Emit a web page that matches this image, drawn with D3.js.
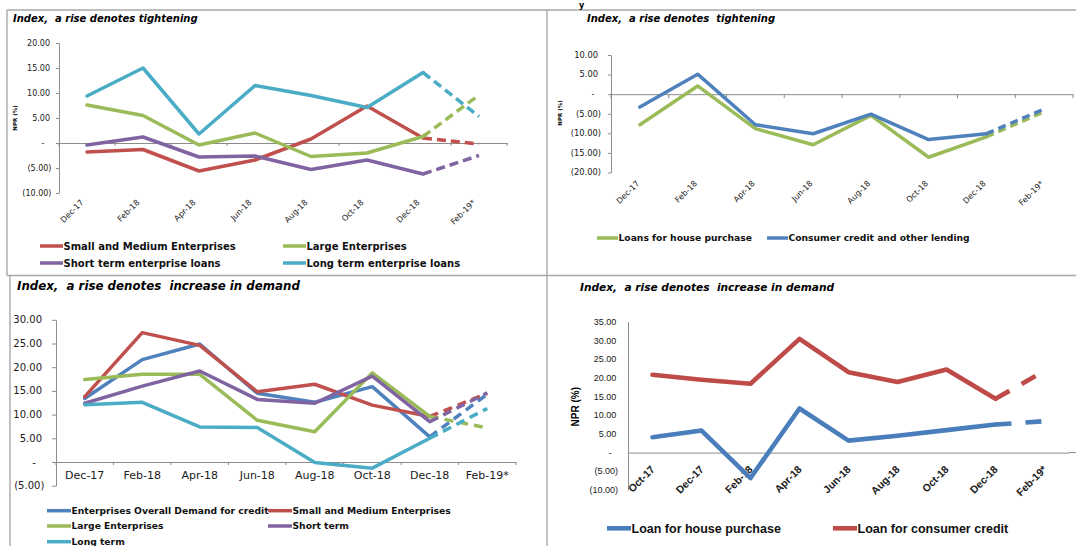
<!DOCTYPE html>
<html>
<head>
<meta charset="utf-8">
<script src="https://cdn.jsdelivr.net/npm/d3@7"></script>
<style>
  body { margin: 0; background: #ffffff; }
  svg { display: block; }
  text { white-space: pre; }
</style>
</head>
<body>
<svg id="chart" width="1076" height="546"></svg>
<script>
// ---------- Data ----------
const supplyCategories = ["Dec-17", "Feb-18", "Apr-18", "Jun-18", "Aug-18", "Oct-18", "Dec-18", "Feb-19*"];

// Credit standards, enterprises (NPR %)
const entSME   = [-1.8, -1.3, -5.6, -3.4, 0.8, 7.4, 1.0, -0.2];
const entLarge = [7.6, 5.5, -0.4, 2.0, -2.7, -2.0, 1.3, 9.6];
const entShort = [-0.4, 1.2, -2.8, -2.6, -5.3, -3.4, -6.2, -2.5];
const entLong  = [9.4, 15.0, 1.8, 11.5, 9.5, 7.1, 14.1, 5.3];
const entTicks = [20, 15, 10, 5, 0, -5, -10];

// Credit standards, households (NPR %)
const hhHouse    = [-7.8, 2.1, -8.8, -12.9, -5.4, -16.1, -10.9, -4.5];
const hhConsumer = [-3.3, 5.1, -7.8, -10.1, -5.1, -11.6, -10.1, -3.8];
const hhTicks = [10, 5, 0, -5, -10, -15, -20];

// Demand, enterprises (NPR %)
const demOverall = [13.4, 21.6, 24.9, 14.5, 12.6, 15.9, 5.3, 14.3];
const demSME     = [13.8, 27.3, 24.6, 14.8, 16.4, 12.0, 9.6, 14.5];
const demLarge   = [17.4, 18.5, 18.5, 8.8, 6.4, 18.8, 9.6, 7.2];
const demShort   = [12.4, 16.0, 19.2, 13.2, 12.4, 18.1, 8.5, 14.6];
const demLong    = [12.1, 12.6, 7.4, 7.3, -0.1, -1.3, 5.0, 11.3];
const demTicks = [30, 25, 20, 15, 10, 5, 0, -5];

// Demand, households (NPR %)
const hhDemCategories = ["Oct-17", "Dec-17", "Feb-18", "Apr-18", "Jun-18", "Aug-18", "Oct-18", "Dec-18", "Feb-19*"];
const hhDemHouse    = [4.1, 5.9, -6.8, 11.8, 3.2, 4.5, 6.0, 7.5, 8.4];
const hhDemConsumer = [20.8, 19.5, 18.4, 30.4, 21.5, 18.9, 22.2, 14.4, 21.8];
const hhDemTicks = [35, 30, 25, 20, 15, 10, 5, 0, -5, -10];

// ---------- Styling ----------
const C = {
  red: "#C0504D", green: "#9BBB59", purple: "#8064A2",
  cyan: "#4BACC6", blue: "#4F81BD",
  blueDark: "#4A7EBB", redDark: "#BE4B48",
  axis: "#8C8C8C", frame: "#A8A8A8", text: "#1a1a1a"
};
const DV = "'DejaVu Sans', Verdana, sans-serif";
const LS = "'Liberation Sans', Arial, sans-serif";

const fmt2 = d3.format(".2f");
const fmtNPR = v => v === 0 ? "-" : (v < 0 ? "(" + fmt2(-v) + ")" : fmt2(v));

const svg = d3.select("#chart");

// Frame lines dividing the four panels
const frame = svg.append("g").attr("stroke", C.frame).attr("stroke-width", 1.4).attr("fill", "none");
frame.append("line").attr("x1", 7).attr("x2", 1076).attr("y1", 10).attr("y2", 10);
frame.append("line").attr("x1", 7).attr("x2", 1076).attr("y1", 275.5).attr("y2", 275.5);
frame.append("line").attr("x1", 7).attr("x2", 7).attr("y1", 10).attr("y2", 275.5);
frame.append("line").attr("x1", 10).attr("x2", 10).attr("y1", 275.5).attr("y2", 546);
frame.append("line").attr("x1", 547).attr("x2", 547).attr("y1", 10).attr("y2", 546);

// Small heading glyph above the frame
svg.append("text").attr("x", 579).attr("y", 7.5)
  .style("font-family", DV).style("font-weight", "bold").style("font-size", "8px")
  .attr("fill", "#000").text("y");

function drawPanel(p) {
  const g = svg.append("g");
  const x = d3.scaleBand().domain(p.categories).range(p.xRange);
  const y = d3.scaleLinear().domain(p.yDomain).range(p.yRange);
  const cx = c => x(c) + x.bandwidth() / 2;

  // Title
  g.append("text")
    .attr("x", p.title.x).attr("y", p.title.y)
    .style("font-family", p.title.font).style("font-weight", "bold")
    .style("font-style", "italic").style("font-size", p.title.size + "px")
    .attr("fill", "#000").text(p.title.text);

  // Y axis
  const ya = g.append("g")
    .attr("transform", `translate(${p.xRange[0]},0)`)
    .call(d3.axisLeft(y).tickValues(p.ticks).tickFormat("")
      .tickSizeInner(p.yTickSize).tickSizeOuter(0));
  ya.select(".domain").attr("stroke", C.axis).attr("stroke-width", 1);
  ya.selectAll(".tick line").attr("stroke", C.axis);

  g.selectAll(null).data(p.ticks).join("text")
    .attr("x", d => p.xRange[0] + (d === 0 ? p.yLab.zero : d < 0 ? p.yLab.neg : p.yLab.pos))
    .attr("y", d => y(d)).attr("dy", "0.35em")
    .attr("text-anchor", d => d === 0 ? "middle" : "end")
    .style("font-family", p.yLab.font).style("font-size", p.yLab.size + "px")
    .attr("fill", C.text).text(fmtNPR);

  // X axis along zero
  const xa = g.append("g")
    .attr("transform", `translate(0,${y(0)})`)
    .call(d3.axisBottom(x).tickFormat("").tickSize(0).tickSizeOuter(0));
  xa.select(".domain").attr("stroke", C.axis).attr("stroke-width", 1);
  if (p.axisEnd) {
    g.append("line").attr("x1", p.xRange[1]).attr("x2", p.axisEnd)
      .attr("y1", y(0)).attr("y2", y(0)).attr("stroke", C.axis);
  }
  if (p.xTickSize) {
    g.selectAll(null).data(d3.range(p.categories.length + 1)).join("line")
      .attr("x1", i => p.xRange[0] + i * x.step())
      .attr("x2", i => p.xRange[0] + i * x.step())
      .attr("y1", y(0)).attr("y2", y(0) + p.xTickSize)
      .attr("stroke", C.axis);
  }

  // Category labels
  const xl = g.selectAll(null).data(p.categories).join("text")
    .style("font-family", p.xLab.font).style("font-size", p.xLab.size + "px")
    .style("font-weight", p.xLab.bold ? "bold" : "normal")
    .attr("fill", C.text).text(d => d);
  if (p.xLab.rotate) {
    xl.attr("text-anchor", "end")
      .attr("transform", d => `translate(${cx(d) + p.xLab.dx},${p.xLab.y}) rotate(-45)`);
  } else {
    xl.attr("text-anchor", "middle").attr("x", d => cx(d)).attr("y", p.xLab.y);
  }

  // Y axis title
  if (p.yTitle) {
    g.append("text")
      .attr("transform", `translate(${p.yTitle.x},${p.yTitle.y}) rotate(-90)`)
      .attr("text-anchor", "middle").attr("dy", "0.35em")
      .style("font-family", p.yTitle.font).style("font-weight", "bold")
      .style("font-size", p.yTitle.size + "px").attr("fill", "#000")
      .text("NPR (%)");
  }

  // Series: solid through the latest survey, dashed for the expectation
  const line = d3.line().x(d => cx(d.c)).y(d => y(d.v));
  const n = p.categories.length;
  p.series.forEach(s => {
    const pts = s.values.map((v, i) => ({ c: p.categories[i], v }));
    g.append("path").datum(pts.slice(0, n - 1)).attr("d", line)
      .attr("fill", "none").attr("stroke", s.color)
      .attr("stroke-width", p.lineWidth).attr("stroke-linejoin", "round")
      .attr("stroke-linecap", "round");
    g.append("path").datum(pts.slice(n - 2)).attr("d", line)
      .attr("fill", "none").attr("stroke", s.color)
      .attr("stroke-width", p.lineWidth).attr("stroke-dasharray", p.dash);
  });

  // Legend
  p.legend.forEach((item, k) => {
    const s = p.series[k];
    g.append("line").attr("x1", item.x).attr("x2", item.x + p.legendLine)
      .attr("y1", item.y).attr("y2", item.y)
      .attr("stroke", s.color).attr("stroke-width", p.lineWidth);
    g.append("text").attr("x", item.x + p.legendLine + 0.5).attr("y", item.y)
      .attr("dy", "0.35em")
      .style("font-family", p.legendFont.font).style("font-weight", "bold")
      .style("font-size", p.legendFont.size + "px").attr("fill", "#111")
      .text(s.name);
  });
}

// Top left: credit standards for enterprises
drawPanel({
  categories: supplyCategories,
  xRange: [59, 507], yDomain: [-10, 20], yRange: [193, 43],
  ticks: entTicks, yTickSize: 3, xTickSize: 3,
  title: { x: 13, y: 22, text: "Index,  a rise denotes tightening", font: DV, size: 10 },
  yLab: { font: DV, size: 8, pos: -9, neg: -7.5, zero: -16 },
  xLab: { font: DV, size: 8, rotate: true, dx: -3, y: 203 },
  yTitle: { x: 15, y: 118, font: DV, size: 5.5 },
  lineWidth: 3.5, dash: "9,5",
  series: [
    { name: "Small and Medium Enterprises", values: entSME, color: C.red },
    { name: "Large Enterprises", values: entLarge, color: C.green },
    { name: "Short term enterprise loans", values: entShort, color: C.purple },
    { name: "Long term enterprise loans", values: entLong, color: C.cyan }
  ],
  legend: [{ x: 40, y: 246 }, { x: 283, y: 246 }, { x: 40, y: 263 }, { x: 283, y: 263 }],
  legendLine: 23, legendFont: { font: DV, size: 10 }
});

// Top right: credit standards for households
drawPanel({
  categories: supplyCategories,
  xRange: [611, 1073], yDomain: [-20, 10], yRange: [172.5, 55],
  ticks: hhTicks, yTickSize: 3, xTickSize: 4,
  title: { x: 587, y: 22, text: "Index,  a rise denotes  tightening", font: DV, size: 10 },
  yLab: { font: DV, size: 8.3, pos: -13, neg: -10, zero: -18 },
  xLab: { font: DV, size: 8, rotate: true, dx: 0, y: 184 },
  yTitle: { x: 560, y: 113, font: DV, size: 5.5 },
  lineWidth: 3.5, dash: "8,5",
  series: [
    { name: "Loans for house purchase", values: hhHouse, color: C.green },
    { name: "Consumer credit and other lending", values: hhConsumer, color: C.blue }
  ],
  legend: [{ x: 597, y: 238 }, { x: 767, y: 238 }],
  legendLine: 21, legendFont: { font: DV, size: 9.2 }
});

// Bottom left: demand for enterprise credit
drawPanel({
  categories: supplyCategories,
  xRange: [56, 516], yDomain: [-5, 30], yRange: [485.7, 319.8],
  ticks: demTicks, yTickSize: 4, xTickSize: 3,
  title: { x: 17, y: 290, text: "Index,  a rise denotes  increase in demand", font: DV, size: 11.8 },
  yLab: { font: DV, size: 10, pos: -14, neg: -11.7, zero: -22 },
  xLab: { font: DV, size: 11, rotate: false, y: 479 },
  lineWidth: 3.5, dash: "9,6",
  series: [
    { name: "Enterprises Overall Demand for credit", values: demOverall, color: C.blue },
    { name: "Small and Medium Enterprises", values: demSME, color: C.red },
    { name: "Large Enterprises", values: demLarge, color: C.green },
    { name: "Short term", values: demShort, color: C.purple },
    { name: "Long term", values: demLong, color: C.cyan }
  ],
  legend: [{ x: 47, y: 510.7 }, { x: 268, y: 510.7 }, { x: 47, y: 526 }, { x: 268, y: 526 }, { x: 47, y: 541.7 }],
  legendLine: 24, legendFont: { font: DV, size: 9.2 }
});

// Bottom right: demand for household credit
drawPanel({
  categories: hhDemCategories,
  xRange: [628, 1069], yDomain: [-10, 35], yRange: [490, 321.7],
  ticks: hhDemTicks, yTickSize: 0, xTickSize: 0, axisEnd: 1076,
  title: { x: 580, y: 290.7, text: "Index,  a rise denotes  increase in demand", font: DV, size: 10.6 },
  yLab: { font: LS, size: 9, pos: -11.7, neg: -10, zero: -17.7 },
  xLab: { font: LS, size: 10.5, bold: true, rotate: true, dx: 3, y: 470 },
  yTitle: { x: 575.7, y: 406.7, font: LS, size: 10 },
  lineWidth: 4.6, dash: "16,14",
  series: [
    { name: "Loan for house purchase", values: hhDemHouse, color: C.blueDark },
    { name: "Loan for consumer credit", values: hhDemConsumer, color: C.redDark }
  ],
  legend: [{ x: 607, y: 528.3 }, { x: 833, y: 528.3 }],
  legendLine: 24, legendFont: { font: LS, size: 12.5 }
});
</script>
</body>
</html>
